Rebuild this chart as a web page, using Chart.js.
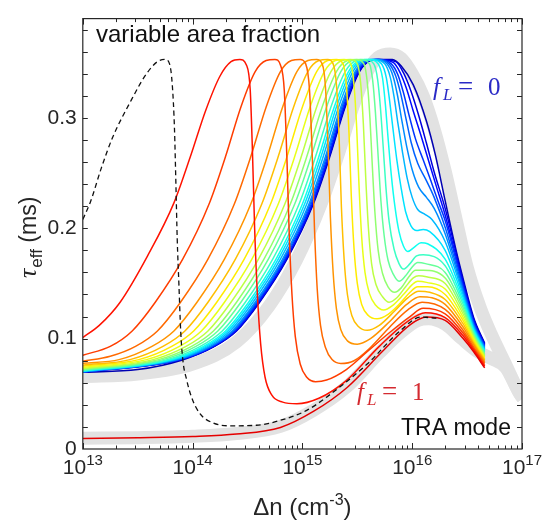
<!DOCTYPE html>
<html>
<head>
<meta charset="utf-8">
<script src="https://cdn.jsdelivr.net/npm/chart.js@4.4.1/dist/chart.umd.min.js"></script>
<style>
  html, body { margin: 0; padding: 0; background: #fff; }
  canvas { display: block; }
</style>
</head>
<body>
<canvas id="tauChart" width="546" height="524"></canvas>
<script>
// points are [log10(delta n / cm^-3), tau_eff in ms]

// area fraction f_L of each curve, red (1) to blue (0)
const fLValues = [1, 0.95, 0.9, 0.85, 0.8, 0.75, 0.7, 0.65, 0.6, 0.55, 0.5,
                  0.45, 0.4, 0.35, 0.3, 0.25, 0.2, 0.15, 0.1, 0.05, 0];

const tau100 = [[13,0.0095],[13.5,0.0102],[14,0.0113],[14.4,0.0135],[14.8,0.0195],[15.1,0.034],[15.41,0.056],[15.73,0.0885],[15.98,0.1125],[16.13,0.1195],[16.3,0.1165],[16.46,0.1005],[16.56,0.088],[16.66,0.0735]];
const tau095 = [[13,0.101],[13.15,0.112],[13.34,0.133],[13.59,0.175],[13.83,0.223],[13.98,0.265],[14.12,0.307],[14.25,0.338],[14.35,0.351],[14.43,0.353],[14.49,0.348],[14.525,0.325],[14.545,0.27],[14.565,0.2],[14.59,0.14],[14.62,0.095],[14.66,0.065],[14.72,0.049],[14.82,0.0425],[14.95,0.041],[15.15,0.046],[15.4,0.062],[15.7,0.093],[15.95,0.115],[16.12,0.1235],[16.3,0.119],[16.46,0.103],[16.56,0.0895],[16.66,0.075]];
const tau090 = [[13,0.085],[13.25,0.093],[13.45,0.107],[13.66,0.133],[13.91,0.172],[14.15,0.222],[14.3,0.265],[14.44,0.31],[14.57,0.342],[14.67,0.352],[14.75,0.353],[14.8,0.348],[14.835,0.325],[14.86,0.26],[14.88,0.195],[14.905,0.14],[14.935,0.102],[14.98,0.077],[15.04,0.065],[15.12,0.061],[15.22,0.0625],[15.4,0.072],[15.6,0.089],[15.8,0.106],[15.98,0.12],[16.1,0.1275],[16.3,0.1225],[16.46,0.1055],[16.56,0.091],[16.66,0.0765]];
const tau085 = [[13,0.0795],[13.25,0.084],[13.48,0.093],[13.68,0.107],[13.89,0.133],[14.14,0.172],[14.38,0.222],[14.53,0.265],[14.67,0.31],[14.8,0.342],[14.9,0.352],[14.98,0.353],[15.03,0.349],[15.065,0.325],[15.09,0.265],[15.11,0.2],[15.135,0.145],[15.165,0.112],[15.21,0.092],[15.27,0.081],[15.35,0.0775],[15.47,0.08],[15.62,0.092],[15.8,0.111],[15.96,0.126],[16.09,0.133],[16.3,0.1265],[16.46,0.108],[16.56,0.0925],[16.66,0.078]];
const tau080 = [[13,0.0777],[13.33,0.081],[13.63,0.093],[13.83,0.107],[14.04,0.133],[14.29,0.172],[14.53,0.222],[14.68,0.265],[14.82,0.31],[14.95,0.342],[15.05,0.352],[15.13,0.353],[15.18,0.349],[15.21,0.328],[15.235,0.27],[15.255,0.21],[15.28,0.16],[15.31,0.127],[15.35,0.108],[15.41,0.098],[15.5,0.095],[15.62,0.1],[15.8,0.116],[15.95,0.131],[16.07,0.138],[16.18,0.137],[16.3,0.131],[16.46,0.111],[16.56,0.0945],[16.66,0.0792]];
const tau075 = [[13,0.076],[13.43,0.081],[13.73,0.093],[13.93,0.107],[14.14,0.133],[14.39,0.172],[14.63,0.222],[14.78,0.265],[14.92,0.31],[15.05,0.342],[15.15,0.352],[15.23,0.353],[15.28,0.349],[15.31,0.33],[15.335,0.28],[15.355,0.22],[15.38,0.172],[15.41,0.14],[15.45,0.121],[15.51,0.111],[15.59,0.1075],[15.7,0.112],[15.84,0.125],[15.96,0.137],[16.06,0.143],[16.16,0.142],[16.3,0.1355],[16.46,0.114],[16.56,0.0962],[16.66,0.0805]];
const tau070 = [[13,0.075],[13.51,0.081],[13.81,0.093],[14.01,0.107],[14.22,0.133],[14.47,0.172],[14.71,0.222],[14.86,0.265],[15.0,0.31],[15.13,0.342],[15.23,0.352],[15.31,0.353],[15.37,0.349],[15.4,0.33],[15.425,0.285],[15.445,0.23],[15.47,0.182],[15.5,0.15],[15.54,0.131],[15.6,0.121],[15.68,0.118],[15.78,0.122],[15.89,0.132],[15.98,0.142],[16.05,0.147],[16.14,0.147],[16.3,0.14],[16.46,0.117],[16.56,0.098],[16.66,0.0817]];
const tau065 = [[13,0.0738],[13.58,0.081],[13.88,0.093],[14.08,0.107],[14.29,0.133],[14.54,0.172],[14.78,0.222],[14.93,0.265],[15.07,0.31],[15.2,0.342],[15.3,0.352],[15.38,0.353],[15.44,0.349],[15.47,0.33],[15.495,0.29],[15.515,0.24],[15.54,0.192],[15.57,0.16],[15.61,0.141],[15.67,0.13],[15.74,0.126],[15.82,0.13],[15.92,0.14],[16.0,0.149],[16.05,0.152],[16.13,0.151],[16.3,0.145],[16.46,0.12],[16.56,0.0995],[16.66,0.083]];
const tau060 = [[13,0.073],[13.64,0.081],[13.94,0.093],[14.14,0.107],[14.35,0.133],[14.6,0.172],[14.84,0.222],[14.99,0.265],[15.13,0.31],[15.26,0.342],[15.36,0.352],[15.44,0.353],[15.5,0.349],[15.53,0.332],[15.555,0.295],[15.575,0.25],[15.6,0.202],[15.63,0.168],[15.67,0.149],[15.73,0.138],[15.79,0.133],[15.86,0.137],[15.94,0.147],[16.01,0.155],[16.06,0.157],[16.13,0.156],[16.3,0.15],[16.46,0.123],[16.56,0.101],[16.66,0.0842]];
const tau055 = [[13,0.0722],[13.69,0.081],[13.99,0.093],[14.19,0.107],[14.4,0.133],[14.65,0.172],[14.89,0.222],[15.04,0.265],[15.18,0.31],[15.31,0.342],[15.41,0.352],[15.49,0.353],[15.56,0.349],[15.59,0.333],[15.615,0.3],[15.635,0.26],[15.66,0.215],[15.69,0.18],[15.73,0.159],[15.78,0.147],[15.84,0.142],[15.9,0.146],[15.97,0.156],[16.03,0.162],[16.1,0.162],[16.3,0.155],[16.46,0.126],[16.56,0.1025],[16.66,0.0853]];
const tau050 = [[13,0.0716],[13.73,0.081],[14.03,0.093],[14.23,0.107],[14.44,0.133],[14.69,0.172],[14.93,0.222],[15.08,0.265],[15.22,0.31],[15.35,0.342],[15.45,0.352],[15.53,0.353],[15.61,0.349],[15.64,0.334],[15.665,0.305],[15.69,0.265],[15.715,0.225],[15.745,0.193],[15.78,0.171],[15.83,0.158],[15.88,0.152],[15.94,0.157],[16.0,0.165],[16.05,0.169],[16.12,0.168],[16.3,0.16],[16.46,0.129],[16.56,0.104],[16.66,0.0864]];
const tau045 = [[13,0.0711],[13.77,0.081],[14.07,0.093],[14.27,0.107],[14.48,0.133],[14.73,0.172],[14.97,0.222],[15.12,0.265],[15.26,0.31],[15.39,0.342],[15.49,0.352],[15.57,0.353],[15.65,0.349],[15.685,0.335],[15.71,0.31],[15.735,0.275],[15.76,0.238],[15.79,0.206],[15.835,0.181],[15.88,0.168],[15.92,0.163],[15.98,0.168],[16.04,0.175],[16.1,0.176],[16.3,0.166],[16.46,0.132],[16.56,0.1055],[16.66,0.0875]];
const tau040 = [[13,0.0707],[13.8,0.081],[14.1,0.093],[14.3,0.107],[14.51,0.133],[14.76,0.172],[15.0,0.222],[15.15,0.265],[15.29,0.31],[15.42,0.342],[15.52,0.352],[15.6,0.353],[15.69,0.349],[15.73,0.336],[15.755,0.313],[15.78,0.282],[15.81,0.248],[15.845,0.218],[15.88,0.197],[15.92,0.184],[15.96,0.179],[16.02,0.183],[16.08,0.187],[16.14,0.186],[16.3,0.172],[16.46,0.135],[16.56,0.107],[16.66,0.0885]];
const tau035 = [[13,0.0704],[13.82,0.081],[14.12,0.093],[14.32,0.107],[14.53,0.133],[14.78,0.172],[15.02,0.222],[15.17,0.265],[15.31,0.31],[15.44,0.342],[15.54,0.352],[15.62,0.353],[15.72,0.349],[15.765,0.336],[15.795,0.315],[15.825,0.29],[15.86,0.262],[15.9,0.236],[15.94,0.215],[15.99,0.202],[16.04,0.198],[16.1,0.199],[16.16,0.197],[16.3,0.18],[16.46,0.138],[16.56,0.1085],[16.66,0.0895]];
const tau030 = [[13,0.0702],[13.84,0.081],[14.14,0.093],[14.34,0.107],[14.55,0.133],[14.8,0.172],[15.04,0.222],[15.19,0.265],[15.33,0.31],[15.46,0.342],[15.56,0.352],[15.64,0.353],[15.75,0.349],[15.8,0.337],[15.835,0.319],[15.87,0.295],[15.91,0.27],[15.955,0.245],[16.0,0.228],[16.05,0.217],[16.11,0.213],[16.18,0.208],[16.3,0.188],[16.46,0.141],[16.56,0.11],[16.66,0.0905]];
const tau025 = [[13,0.07],[13.86,0.081],[14.16,0.093],[14.36,0.107],[14.57,0.133],[14.82,0.172],[15.06,0.222],[15.21,0.265],[15.35,0.31],[15.48,0.342],[15.58,0.352],[15.66,0.353],[15.77,0.349],[15.825,0.338],[15.865,0.321],[15.905,0.298],[15.95,0.274],[16.0,0.253],[16.06,0.237],[16.13,0.228],[16.2,0.218],[16.3,0.195],[16.46,0.1435],[16.56,0.1115],[16.66,0.0915]];
const tau020 = [[13,0.0699],[13.87,0.081],[14.17,0.093],[14.37,0.107],[14.58,0.133],[14.83,0.172],[15.07,0.222],[15.22,0.265],[15.36,0.31],[15.49,0.342],[15.59,0.352],[15.67,0.353],[15.79,0.349],[15.85,0.338],[15.895,0.322],[15.94,0.301],[15.99,0.278],[16.05,0.259],[16.12,0.245],[16.2,0.228],[16.3,0.201],[16.46,0.146],[16.56,0.113],[16.66,0.0925]];
const tau015 = [[13,0.0698],[13.88,0.081],[14.18,0.093],[14.38,0.107],[14.59,0.133],[14.84,0.172],[15.08,0.222],[15.23,0.265],[15.37,0.31],[15.5,0.342],[15.6,0.352],[15.68,0.353],[15.81,0.349],[15.87,0.339],[15.92,0.323],[15.97,0.303],[16.03,0.281],[16.1,0.262],[16.17,0.243],[16.23,0.226],[16.3,0.207],[16.46,0.1485],[16.56,0.1145],[16.66,0.0933]];
const tau010 = [[13,0.0697],[13.89,0.081],[14.19,0.093],[14.39,0.107],[14.6,0.133],[14.85,0.172],[15.09,0.222],[15.24,0.265],[15.38,0.31],[15.51,0.342],[15.61,0.352],[15.69,0.353],[15.83,0.35],[15.89,0.341],[15.95,0.326],[16.01,0.306],[16.08,0.284],[16.15,0.261],[16.22,0.238],[16.3,0.212],[16.46,0.151],[16.56,0.116],[16.66,0.0942]];
const tau005 = [[13,0.0696],[13.895,0.081],[14.195,0.093],[14.395,0.107],[14.605,0.133],[14.855,0.172],[15.095,0.222],[15.245,0.265],[15.385,0.31],[15.515,0.342],[15.615,0.352],[15.695,0.353],[15.85,0.351],[15.92,0.341],[15.99,0.324],[16.06,0.302],[16.13,0.277],[16.2,0.251],[16.3,0.218],[16.46,0.1535],[16.56,0.1175],[16.66,0.095]];
const tau000 = [[13,0.0696],[13.5,0.072],[13.9,0.0805],[14.2,0.093],[14.4,0.107],[14.61,0.133],[14.86,0.172],[15.1,0.222],[15.25,0.265],[15.39,0.31],[15.52,0.342],[15.62,0.352],[15.7,0.353],[15.82,0.353],[15.9,0.347],[16.01,0.33],[16.13,0.297],[16.21,0.267],[16.3,0.225],[16.4,0.18],[16.46,0.156],[16.56,0.119],[16.66,0.0958]];

// dashed black curve
const tauDashed = [[13,0.208],[13.07,0.224],[13.17,0.255],[13.27,0.282],[13.43,0.314],[13.58,0.34],[13.68,0.351],[13.75,0.353],[13.79,0.349],[13.815,0.33],[13.835,0.29],[13.848,0.24],[13.86,0.19],[13.875,0.15],[13.892,0.106],[13.912,0.08],[13.945,0.063],[13.99,0.047],[14.067,0.032],[14.19,0.0235],[14.34,0.021],[14.58,0.0215],[14.8,0.026],[15.04,0.035],[15.22,0.047],[15.59,0.077],[15.89,0.107],[16.08,0.1195],[16.22,0.1185]];

// thick grey reference bands
const grayUpper = [[13,0.0655],[13.5,0.068],[14,0.077],[14.4,0.097],[14.7,0.13],[14.95,0.172],[15.17,0.222],[15.32,0.265],[15.46,0.31],[15.58,0.34],[15.69,0.355],[15.8,0.358],[15.9,0.354],[16.0,0.34],[16.1,0.32],[16.2,0.29],[16.3,0.252],[16.4,0.208],[16.5,0.165],[16.62,0.128],[16.72,0.104],[16.85,0.077],[16.98,0.05],[17.01,0.046]];
const grayLower = [[13,0.0098],[13.5,0.0103],[14,0.0115],[14.4,0.014],[14.8,0.0205],[15.1,0.035],[15.4,0.056],[15.7,0.087],[15.9,0.106],[16.05,0.1165],[16.15,0.118],[16.3,0.113],[16.45,0.1],[16.6,0.088],[16.72,0.082],[16.85,0.074],[16.98,0.05],[17.01,0.046]];

const tauCurves = [tau100, tau095, tau090, tau085, tau080, tau075, tau070, tau065, tau060, tau055, tau050,
                   tau045, tau040, tau035, tau030, tau025, tau020, tau015, tau010, tau005, tau000];

const xDecades = [13, 14, 15, 16, 17];
const yTickValues = [0, 0.1, 0.2, 0.3];
const yTickLabels = ['0', '0.1', '0.2', '0.3'];
const yMinorTicks = [0.02, 0.04, 0.06, 0.08, 0.1, 0.12, 0.14, 0.16, 0.18, 0.2, 0.22, 0.24, 0.26, 0.28, 0.3, 0.32, 0.34, 0.36, 0.38];

// jet-like colour for an area fraction
function jetColor(f) {
  const t = 0.05 + 0.85 * f;
  const c = v => Math.round(255 * Math.max(0, Math.min(1, v)));
  return `rgb(${c(1.5 - Math.abs(4 * t - 3))},${c(1.5 - Math.abs(4 * t - 2))},${c(1.5 - Math.abs(4 * t - 1))})`;
}

const toPoints = pts => pts.map(p => ({ x: Math.pow(10, p[0]), y: p[1] }));

const lineBase = { pointRadius: 0, fill: false, cubicInterpolationMode: 'monotone' };

// first dataset is drawn on top
const datasets = [];
datasets.push({ ...lineBase, data: toPoints(tauDashed), borderColor: '#111', borderWidth: 1.3, borderDash: [5, 3.5] });
tauCurves.forEach((c, i) => {
  datasets.push({ ...lineBase, data: toPoints(c), borderColor: jetColor(fLValues[i]), borderWidth: 1.5 });
});
datasets.push({ ...lineBase, data: toPoints(grayLower), borderColor: '#e2e2e2', borderWidth: 13 });
datasets.push({ ...lineBase, data: toPoints(grayUpper), borderColor: '#e2e2e2', borderWidth: 13 });

function drawFL(ctx, x, y, val, color) {
  ctx.fillStyle = color;
  ctx.textAlign = 'left';
  ctx.font = 'italic 25px "Liberation Serif"';
  ctx.fillText('f', x, y);
  ctx.font = 'italic 17px "Liberation Serif"';
  ctx.fillText('L', x + 10, y + 5);
  ctx.font = '27px "Liberation Serif"';
  ctx.fillText('=', x + 25, y);
  ctx.font = '25px "Liberation Serif"';
  ctx.fillText(val, x + 55, y);
}

const frame = {
  id: 'frame',
  beforeDraw(chart) {
    const ctx = chart.ctx;
    ctx.save();
    ctx.fillStyle = '#fff';
    ctx.fillRect(0, 0, chart.width, chart.height);
    ctx.restore();
  },
  afterDraw(chart) {
    const ctx = chart.ctx;
    const a = chart.chartArea;
    const xs = chart.scales.x, ys = chart.scales.y;
    ctx.save();

    // inward ticks on all four sides
    ctx.strokeStyle = '#262626';
    ctx.lineWidth = 1;
    ctx.beginPath();
    yMinorTicks.forEach(v => {
      const py = Math.round(ys.getPixelForValue(v)) + 0.5;
      ctx.moveTo(a.left, py); ctx.lineTo(a.left + 5, py);
      ctx.moveTo(a.right, py); ctx.lineTo(a.right - 5, py);
    });
    xDecades.forEach((e, i) => {
      for (let k = 1; k <= 9; k++) {
        if (k > 1 && i === xDecades.length - 1) break;
        const px = Math.round(xs.getPixelForValue(k * Math.pow(10, e))) + 0.5;
        const len = k === 1 ? 6 : 3.5;
        ctx.moveTo(px, a.bottom); ctx.lineTo(px, a.bottom - len);
        ctx.moveTo(px, a.top); ctx.lineTo(px, a.top + len);
      }
    });
    ctx.stroke();
    ctx.lineWidth = 1.2;
    ctx.strokeRect(a.left, a.top, a.right - a.left, a.bottom - a.top);

    // x tick labels 10^n
    ctx.fillStyle = '#262626';
    ctx.textAlign = 'left';
    ctx.textBaseline = 'alphabetic';
    xDecades.forEach(e => {
      const px = xs.getPixelForValue(Math.pow(10, e));
      ctx.font = '21px "Liberation Sans"';
      const wb = ctx.measureText('10').width;
      ctx.font = '15px "Liberation Sans"';
      const we = ctx.measureText(String(e)).width;
      const x0 = px - (wb + we) / 2;
      ctx.font = '21px "Liberation Sans"';
      ctx.fillText('10', x0, 474);
      ctx.font = '15px "Liberation Sans"';
      ctx.fillText(String(e), x0 + wb, 465);
    });

    // x axis title
    ctx.font = '24px "Liberation Sans"';
    const t1 = '\u0394n (cm', t3 = ')';
    const w1 = ctx.measureText(t1).width, w3 = ctx.measureText(t3).width;
    ctx.font = '16px "Liberation Sans"';
    const w2 = ctx.measureText('-3').width;
    let xt = (a.left + a.right) / 2 - (w1 + w2 + w3) / 2;
    ctx.font = '24px "Liberation Sans"';
    ctx.fillText(t1, xt, 515);
    ctx.font = '16px "Liberation Sans"';
    ctx.fillText('-3', xt + w1, 505);
    ctx.font = '24px "Liberation Sans"';
    ctx.fillText(t3, xt + w1 + w2, 515);

    // y axis title
    ctx.save();
    ctx.translate(36, (a.top + a.bottom) / 2 + 4);
    ctx.rotate(-Math.PI / 2);
    ctx.font = 'italic 26px "Liberation Serif"';
    const v1 = ctx.measureText('\u03c4').width;
    ctx.font = '17px "Liberation Sans"';
    const v2 = ctx.measureText('eff').width;
    ctx.font = '23px "Liberation Sans"';
    const v3 = ctx.measureText(' (ms)').width;
    const y0 = -(v1 + v2 + v3) / 2;
    ctx.font = 'italic 26px "Liberation Serif"';
    ctx.fillText('\u03c4', y0, 0);
    ctx.font = '17px "Liberation Sans"';
    ctx.fillText('eff', y0 + v1 + 1, 6);
    ctx.font = '23px "Liberation Sans"';
    ctx.fillText(' (ms)', y0 + v1 + v2 + 1, 0);
    ctx.restore();

    // annotations
    ctx.fillStyle = '#111';
    ctx.font = '24px "Liberation Sans"';
    ctx.fillText('variable area fraction', 96, 42);
    ctx.font = '23px "Liberation Sans"';
    ctx.fillText('TRA mode', 401, 435);
    drawFL(ctx, 433, 95, '0', '#2a2ac6');
    drawFL(ctx, 357, 400, '1', '#d42a30');

    ctx.restore();
  }
};

new Chart(document.getElementById('tauChart'), {
  type: 'line',
  data: { datasets: datasets },
  options: {
    responsive: false,
    devicePixelRatio: 1,
    animation: false,
    events: [],
    layout: { padding: { top: 10, right: 24, left: 0, bottom: 0 } },
    plugins: { legend: { display: false }, tooltip: { enabled: false } },
    scales: {
      x: {
        type: 'logarithmic',
        min: 1e13,
        max: 1e17,
        afterFit: s => { s.height = 75; },
        ticks: { display: false },
        grid: { display: false, drawTicks: false },
        border: { display: false }
      },
      y: {
        type: 'linear',
        min: 0,
        max: 0.39,
        afterFit: s => { s.width = 82.8; },
        grid: { display: false, drawTicks: false },
        border: { display: false },
        ticks: {
          stepSize: 0.1,
          includeBounds: false,
          padding: 6,
          color: '#262626',
          font: { family: 'Liberation Sans', size: 21 },
          callback: v => {
            const i = yTickValues.findIndex(t => Math.abs(t - v) < 1e-9);
            return i >= 0 ? yTickLabels[i] : '';
          }
        }
      }
    }
  },
  plugins: [frame]
});
</script>
</body>
</html>
